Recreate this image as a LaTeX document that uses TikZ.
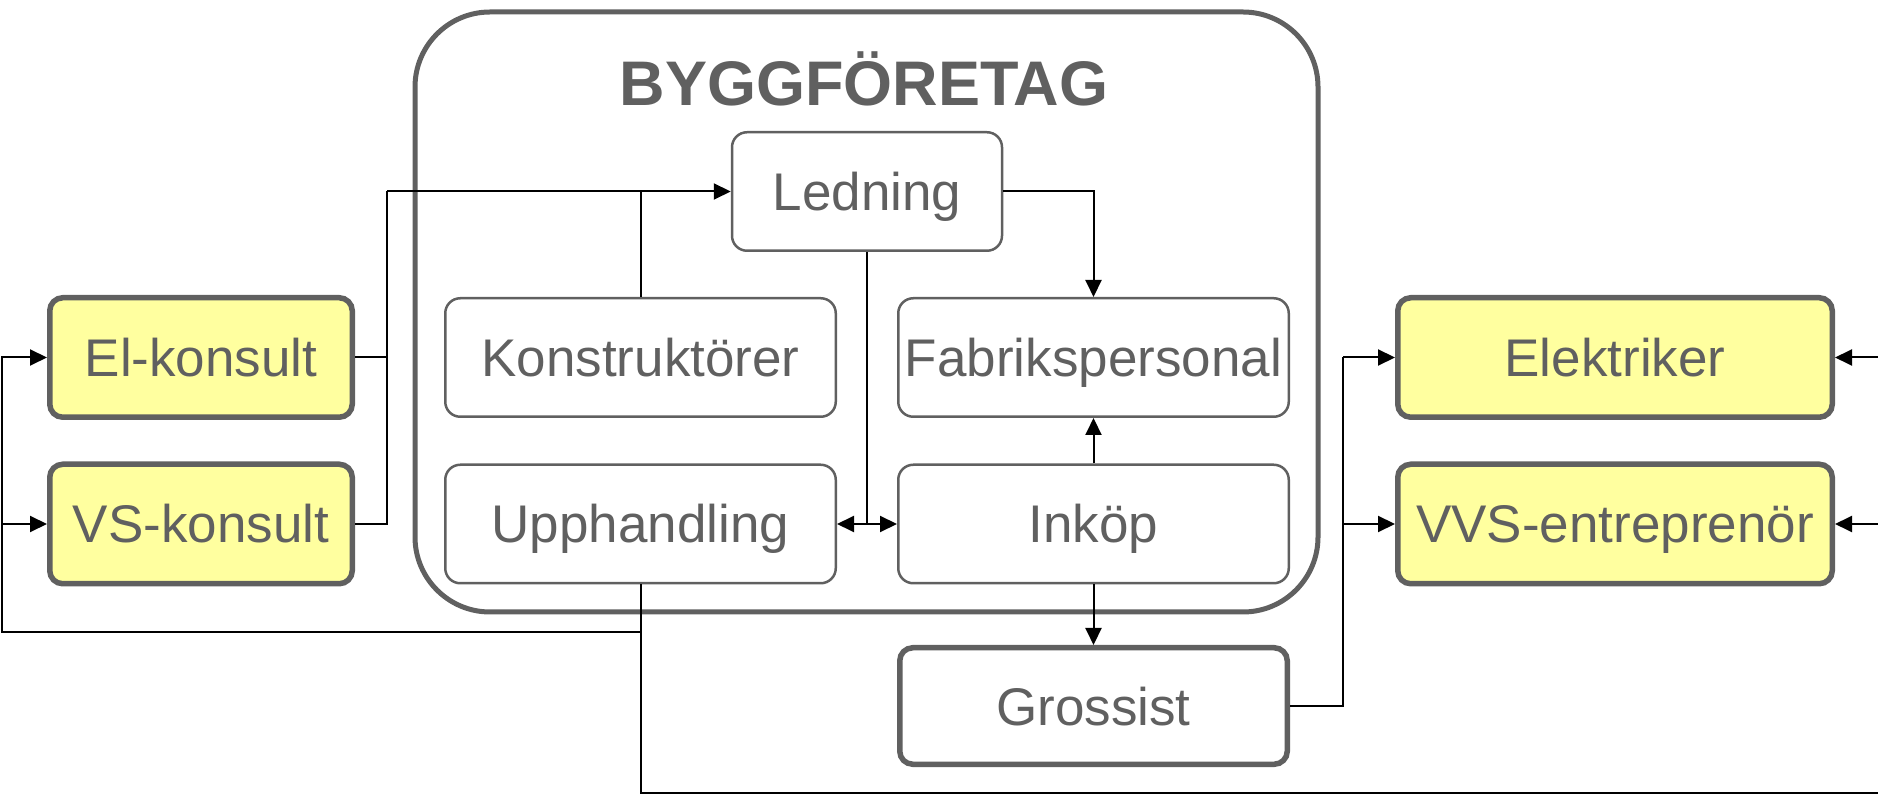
\documentclass[tikz,border=0pt]{standalone}
\usepackage{fontspec}
\setmainfont{Liberation Sans}
\usetikzlibrary{arrows.meta}
\definecolor{boxgray}{HTML}{606060}
\definecolor{paleyellow}{HTML}{FFFF9F}

\begin{document}
\begin{tikzpicture}[x=0.5pt, y=-0.5pt,
    unit/.style={draw=boxgray, line width=1.25pt, fill=white, rounded corners=7.5pt,
        minimum width=195.25pt, minimum height=59.25pt, inner sep=0pt, text=boxgray,
        font=\fontsize{26.5}{30}\selectfont, text height=19pt, text depth=0pt},
    party/.style={unit, line width=2.75pt, rounded corners=6.5pt},
    consult/.style={party, fill=paleyellow, minimum width=151.25pt, minimum height=59.75pt},
    contractor/.style={consult, minimum width=217.25pt},
    conn/.style={line width=1pt},
    arr/.style={conn, -{Triangle[length=8.5pt, width=8pt]}},
    biarr/.style={conn, {Triangle[length=8.5pt, width=8pt]}-{Triangle[length=8.5pt, width=8pt]}}]
    \useasboundingbox (0,0) rectangle (1878,795);

    \node[draw=boxgray, line width=2.5pt, rounded corners=37.5pt, minimum width=451.5pt, minimum height=300pt] (firm) at (866.5,312) {};
    \node[text=boxgray, font=\bfseries\fontsize{31.5}{36}\selectfont, text height=22.5pt, text depth=0pt, inner sep=0pt] (title) at (864,83) {BYGGFÖRETAG};

    \node[unit, minimum width=135pt] (led) at (867,191.5) {Ledning};
    \node[unit] (kon) at (640.5,357.5) {Konstruktörer};
    \node[unit] (fab) at (1093.5,357.5) {Fabrikspersonal};
    \node[unit] (upp) at (640.5,524) {Upphandling};
    \node[unit] (ink) at (1093.5,524) {Inköp};
    \node[party, minimum width=193.75pt, minimum height=58.25pt] (gro) at (1093.5,706) {Grossist};
    \node[consult] (elk) at (201,357.5) {El-konsult};
    \node[consult] (vsk) at (201,524) {VS-konsult};
    \node[contractor] (ele) at (1615,357.5) {Elektriker};
    \node[contractor] (vvs) at (1615,524) {VVS-entreprenör};

    \coordinate (busL) at (387,191.5);
    \coordinate (busR) at (1343,357.5);
    \coordinate (loopL) at (2,632);
    \coordinate (edgeBR) at (1878,793);
    \coordinate (edgeR) at (1878,0);

    \draw[conn] (elk.east) -| (busL);
    \draw[conn] (vsk.east) -| (busL);
    \draw[arr] (busL) -- (led.west);
    \draw[conn] (kon.north) -- (kon.north |- led.west);
    \draw[arr] (led.east) -| (fab.north);
    \draw[conn] (led.south) -- (led.south |- ink.west);
    \draw[biarr] (upp.east) -- (ink.west);
    \draw[arr] (ink.north) -- (fab.south);
    \draw[arr] (ink.south) -- (gro.north);
    \draw[conn] (gro.east) -| (busR);
    \draw[arr] (busR) -- (ele.west);
    \draw[arr] (busR |- vvs.west) -- (vvs.west);
    \draw[arr] (upp.south) |- (loopL) |- (elk.west);
    \draw[arr] (loopL |- vsk.west) -- (vsk.west);
    \draw[conn] (upp.south) |- (edgeBR);
    \draw[arr] (edgeR |- ele.east) -- (ele.east);
    \draw[arr] (edgeR |- vvs.east) -- (vvs.east);
\end{tikzpicture}
\end{document}
